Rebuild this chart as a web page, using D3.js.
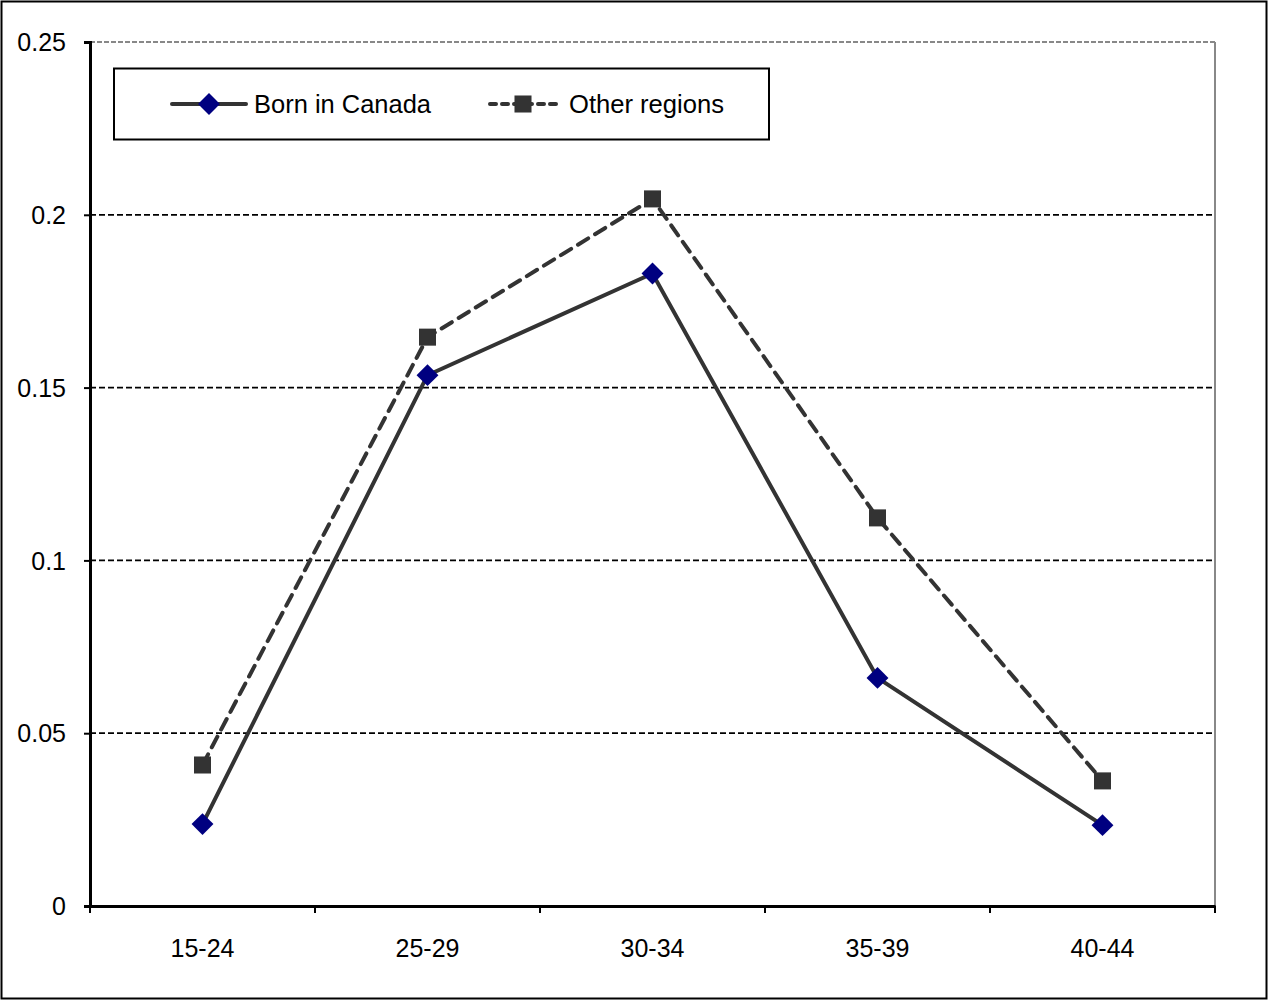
<!DOCTYPE html>
<html><head><meta charset="utf-8">
<script src="https://cdn.jsdelivr.net/npm/d3@7"></script>
<style>body{margin:0;background:#fff}svg{display:block}text{font-family:"Liberation Sans",Arial,sans-serif}</style>
</head><body>
<svg id="c" width="1269" height="1001"></svg>
<script>
const categories = ["15-24","25-29","30-34","35-39","40-44"];
const bornInCanada = [0.0237,0.1536,0.183,0.066,0.0234];
const otherRegions = [0.0408,0.1646,0.2046,0.1123,0.0362];
const yTicks = [0,0.05,0.1,0.15,0.2,0.25];
const yTickLabels = ["0","0.05","0.1","0.15","0.2","0.25"];
const seriesNames = ["Born in Canada","Other regions"];

const svg = d3.select("#c");
const L=90,R=1215,T=42,B=906;
svg.append("rect").attr("x",1.5).attr("y",1.5).attr("width",1265).attr("height",997).attr("fill","#fff").attr("stroke","#000").attr("stroke-width",2);

const x = d3.scaleBand().domain(categories).range([L,R]);
const y = d3.scaleLinear().domain([0,0.25]).range([B,T]);
const cx = d => x(d)+x.bandwidth()/2;

// gridlines
yTicks.filter(v=>v>0&&v<0.25).forEach(v=>{
  svg.append("line").attr("x1",L).attr("x2",R).attr("y1",y(v)).attr("y2",y(v))
    .attr("stroke","#000").attr("stroke-width",1.8).attr("stroke-dasharray","6,3");
});
// top and right border
svg.append("line").attr("x1",L).attr("x2",R).attr("y1",y(0.25)).attr("y2",y(0.25)).attr("stroke","#888").attr("stroke-width",2).attr("stroke-dasharray","5,2");
svg.append("line").attr("x1",R).attr("x2",R).attr("y1",T).attr("y2",B).attr("stroke","#888").attr("stroke-width",2);

// y axis
const ya = svg.append("g").attr("transform",`translate(${L},0)`)
  .call(d3.axisLeft(y).tickValues(yTicks).tickFormat((d,i)=>yTickLabels[i]).tickSize(6).tickPadding(18));
ya.select(".domain").attr("stroke","#000").attr("stroke-width",3);
ya.selectAll(".tick line").attr("stroke","#000").attr("stroke-width",2);
ya.selectAll(".tick text").attr("font-size",25).attr("fill","#000").attr("dy","0.35em");

// x axis
const xa = svg.append("g").attr("transform",`translate(0,${B})`)
  .call(d3.axisBottom(x).tickSize(0).tickPadding(33));
xa.select(".domain").attr("stroke","#000").attr("stroke-width",3);
xa.selectAll(".tick text").attr("font-size",25).attr("fill","#000");
// x boundary ticks
const bounds = categories.map(c=>x(c)).concat([R]);
svg.append("g").selectAll("line").data(bounds).join("line")
  .attr("x1",d=>d).attr("x2",d=>d).attr("y1",B).attr("y2",B+7).attr("stroke","#000").attr("stroke-width",2);

const line = d3.line().x((d,i)=>cx(categories[i])).y(d=>y(d));
svg.append("path").datum(otherRegions).attr("d",line).attr("fill","none").attr("stroke","#333").attr("stroke-width",4).attr("stroke-dasharray","12,8").attr("stroke-linecap","round");
svg.append("path").datum(bornInCanada).attr("d",line).attr("fill","none").attr("stroke","#333").attr("stroke-width",4);

const sq = d3.symbol().type(d3.symbolSquare).size(290);
const dm = d3.symbol().type(d3.symbolSquare).size(240);
svg.append("g").selectAll("path").data(otherRegions).join("path")
  .attr("d",sq).attr("transform",(d,i)=>`translate(${cx(categories[i])},${y(d)})`).attr("fill","#333");
svg.append("g").selectAll("path").data(bornInCanada).join("path")
  .attr("d",dm).attr("transform",(d,i)=>`translate(${cx(categories[i])},${y(d)}) rotate(45)`).attr("fill","#000080");

// legend
const lg = svg.append("g");
lg.append("rect").attr("x",114).attr("y",68.5).attr("width",655).attr("height",71).attr("fill","#fff").attr("stroke","#000").attr("stroke-width",2);
const ly = 104;
lg.append("line").attr("x1",172).attr("x2",246).attr("y1",ly).attr("y2",ly).attr("stroke","#333").attr("stroke-width",4).attr("stroke-linecap","round");
lg.append("path").attr("d",dm).attr("transform",`translate(209,${ly}) rotate(45)`).attr("fill","#000080");
lg.append("text").attr("x",254).attr("y",ly).attr("dy","0.35em").attr("font-size",25).attr("textLength",177).attr("lengthAdjust","spacingAndGlyphs").text(seriesNames[0]);
lg.append("line").attr("x1",490).attr("x2",560).attr("y1",ly).attr("y2",ly).attr("stroke","#333").attr("stroke-width",4).attr("stroke-dasharray","6,6").attr("stroke-linecap","round");
lg.append("path").attr("d",sq).attr("transform",`translate(523,${ly})`).attr("fill","#333");
lg.append("text").attr("x",569).attr("y",ly).attr("dy","0.35em").attr("font-size",25).attr("textLength",155).attr("lengthAdjust","spacingAndGlyphs").text(seriesNames[1]);
</script>
</body></html>
